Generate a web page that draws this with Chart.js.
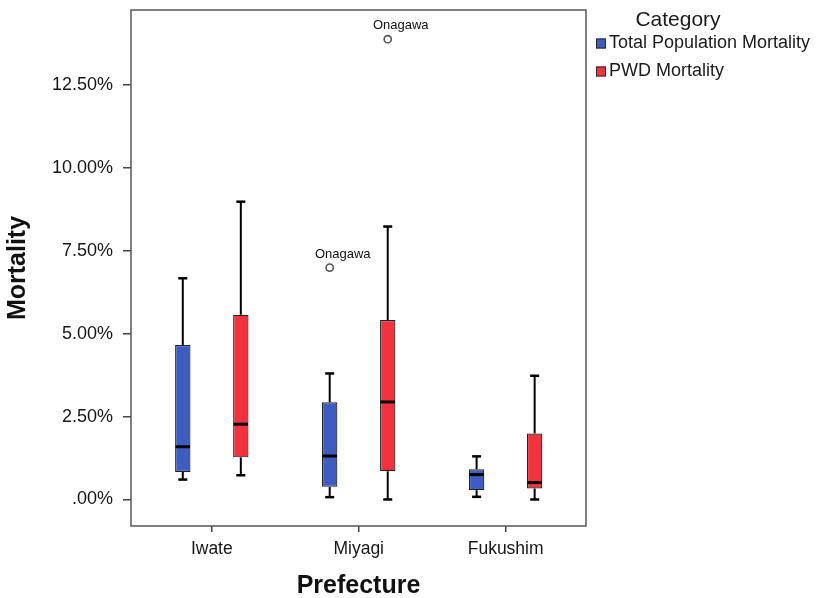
<!DOCTYPE html>
<html>
<head>
<meta charset="utf-8">
<title>Mortality by Prefecture</title>
<script src="https://cdn.jsdelivr.net/npm/chart.js@4.4.1/dist/chart.umd.min.js"></script>
<style>
  html, body { margin: 0; padding: 0; background: #fff; }
  #wrap { width: 819px; height: 598px; }
</style>
</head>
<body>
<div id="wrap"><canvas id="chart"></canvas></div>
<script>
const prefectures = ["Iwate", "Miyagi", "Fukushim"];
const seriesNames = ["Total Population Mortality", "PWD Mortality"];
const seriesColors = ["#3F5CBF", "#F2323C"];

// five-number summaries per prefecture (percent)
const totalLow = [0.60, 0.07, 0.08];
const totalQ1 = [0.83, 0.38, 0.28];
const totalMedian = [1.59, 1.31, 0.75];
const totalQ3 = [4.66, 2.93, 0.91];
const totalHigh = [6.67, 3.80, 1.30];

const pwdLow = [0.73, 0.00, 0.00];
const pwdQ1 = [1.27, 0.85, 0.33];
const pwdMedian = [2.27, 2.94, 0.51];
const pwdQ3 = [5.57, 5.41, 1.99];
const pwdHigh = [8.98, 8.23, 3.73];

// outliers: [prefecture index, value, label]
const totalOutliers = [[1, 6.99, "Onagawa"]];
const pwdOutliers = [[1, 13.88, "Onagawa"]];

const yTickValues = [0, 2.5, 5, 7.5, 10, 12.5];
const yTickLabels = [".00%", "2.50%", "5.00%", "7.50%", "10.00%", "12.50%"];

Chart.defaults.font.family = "'Liberation Sans', Arial, sans-serif";
Chart.defaults.color = "#161616";

function boxDataset(i, low, q1, med, q3, high, outliers) {
  return {
    label: seriesNames[i],
    data: prefectures.map((p, k) => ({ x: k + 1, y: [q1[k], q3[k]] })),
    backgroundColor: seriesColors[i],
    borderColor: "#222",
    borderWidth: 1.2,
    borderSkipped: false,
    categoryPercentage: 0.79,
    barPercentage: 0.265,
    box: { low, med, high, outliers }
  };
}

// whiskers, caps, medians and outliers on top of the floating bars
const boxPlugin = {
  id: "boxWhiskers",
  afterDatasetsDraw(chart) {
    const { ctx } = chart;
    const y = chart.scales.y;
    const seg = (x1, y1, x2, y2) => {
      ctx.beginPath();
      ctx.moveTo(x1, y1);
      ctx.lineTo(x2, y2);
      ctx.stroke();
    };
    chart.data.datasets.forEach((ds, di) => {
      const meta = chart.getDatasetMeta(di);
      const st = ds.box;
      ctx.save();
      ctx.strokeStyle = "#000";
      meta.data.forEach((bar, k) => {
        const cx = bar.x;
        const half = bar.width / 2;
        const [q1, q3] = ds.data[k].y;
        ctx.lineWidth = 2;
        seg(cx, y.getPixelForValue(q3), cx, y.getPixelForValue(st.high[k]));
        seg(cx, y.getPixelForValue(q1), cx, y.getPixelForValue(st.low[k]));
        ctx.lineWidth = 2.5;
        seg(cx - 4.5, y.getPixelForValue(st.high[k]), cx + 4.5, y.getPixelForValue(st.high[k]));
        seg(cx - 4.5, y.getPixelForValue(st.low[k]), cx + 4.5, y.getPixelForValue(st.low[k]));
        ctx.lineWidth = 3;
        seg(cx - half + 0.5, y.getPixelForValue(st.med[k]), cx + half - 0.5, y.getPixelForValue(st.med[k]));
      });
      st.outliers.forEach(([k, v, name]) => {
        const cx = meta.data[k].x;
        const py = y.getPixelForValue(v);
        ctx.beginPath();
        ctx.arc(cx, py, 3.6, 0, Math.PI * 2);
        ctx.fillStyle = "#fff";
        ctx.fill();
        ctx.lineWidth = 1.6;
        ctx.strokeStyle = "#555";
        ctx.stroke();
        ctx.fillStyle = "#111";
        ctx.font = "13px 'Liberation Sans', Arial, sans-serif";
        ctx.textAlign = "center";
        ctx.textBaseline = "middle";
        ctx.fillText(name, cx + 13, py - 13.5);
      });
      ctx.restore();
    });
  }
};

// box around the plot area
const framePlugin = {
  id: "frame",
  beforeDatasetsDraw(chart) {
    const { ctx, chartArea: a } = chart;
    ctx.save();
    ctx.strokeStyle = "#555";
    ctx.lineWidth = 1.5;
    ctx.strokeRect(a.left, a.top, a.right - a.left, a.bottom - a.top);
    ctx.restore();
  }
};

// legend with title, to the right of the plot
const legendPlugin = {
  id: "categoryLegend",
  afterDraw(chart) {
    const { ctx, chartArea: a } = chart;
    const x0 = a.right + 10;
    ctx.save();
    ctx.fillStyle = "#1a1a1a";
    ctx.textBaseline = "middle";
    ctx.textAlign = "center";
    ctx.font = "21px 'Liberation Sans', Arial, sans-serif";
    ctx.fillText("Category", x0 + 82, 20);
    ctx.textAlign = "left";
    ctx.font = "18px 'Liberation Sans', Arial, sans-serif";
    chart.data.datasets.forEach((ds, i) => {
      const cy = 43.5 + i * 28;
      ctx.fillStyle = ds.backgroundColor;
      ctx.fillRect(x0, cy - 5, 10, 10);
      ctx.strokeStyle = "#2a2a2a";
      ctx.lineWidth = 1;
      ctx.strokeRect(x0 + 0.5, cy - 4.5, 9, 9);
      ctx.fillStyle = "#1a1a1a";
      ctx.fillText(ds.label, x0 + 13, cy);
    });
    ctx.restore();
  }
};

new Chart(document.getElementById("chart"), {
  type: "bar",
  data: {
    datasets: [
      boxDataset(0, totalLow, totalQ1, totalMedian, totalQ3, totalHigh, totalOutliers),
      boxDataset(1, pwdLow, pwdQ1, pwdMedian, pwdQ3, pwdHigh, pwdOutliers)
    ]
  },
  options: {
    responsive: true,
    maintainAspectRatio: false,
    animation: false,
    layout: { padding: { left: 0, top: 10, right: 233, bottom: 0 } },
    plugins: {
      legend: { display: false },
      tooltip: { enabled: false }
    },
    scales: {
      x: {
        type: "linear",
        offset: false,
        min: 0.45,
        max: 3.547,
        afterBuildTicks: (axis) => { axis.ticks = prefectures.map((p, k) => ({ value: k + 1 })); },
        afterFit: (axis) => {
          axis.height = 72;
          axis.paddingLeft = 0;
          axis.paddingRight = 0;
        },
        grid: { offset: false, drawOnChartArea: false, tickLength: 6, color: "#444", lineWidth: 1.5 },
        border: { display: false },
        ticks: {
          callback: (v, i) => prefectures[i],
          font: { size: 17.5 },
          padding: 7,
          maxRotation: 0,
          autoSkip: false
        },
        title: {
          display: true,
          text: "Prefecture",
          font: { size: 25, weight: "bold" },
          color: "#111",
          padding: { top: 0, bottom: -3 }
        }
      },
      y: {
        min: -0.8,
        max: 14.76,
        afterBuildTicks: (axis) => { axis.ticks = yTickValues.map((v) => ({ value: v })); },
        afterFit: (axis) => {
          axis.width = 131;
          axis.paddingTop = 0;
          axis.paddingBottom = 0;
        },
        grid: { drawOnChartArea: false, tickLength: 8, color: "#444", lineWidth: 1.5 },
        border: { display: false },
        ticks: {
          callback: (v, i) => yTickLabels[i],
          font: { size: 18 },
          padding: 10
        },
        title: {
          display: true,
          text: "Mortality",
          font: { size: 25, weight: "bold" },
          color: "#111",
          padding: { top: 3, bottom: 0 }
        }
      }
    }
  },
  plugins: [framePlugin, boxPlugin, legendPlugin]
});
</script>
</body>
</html>
